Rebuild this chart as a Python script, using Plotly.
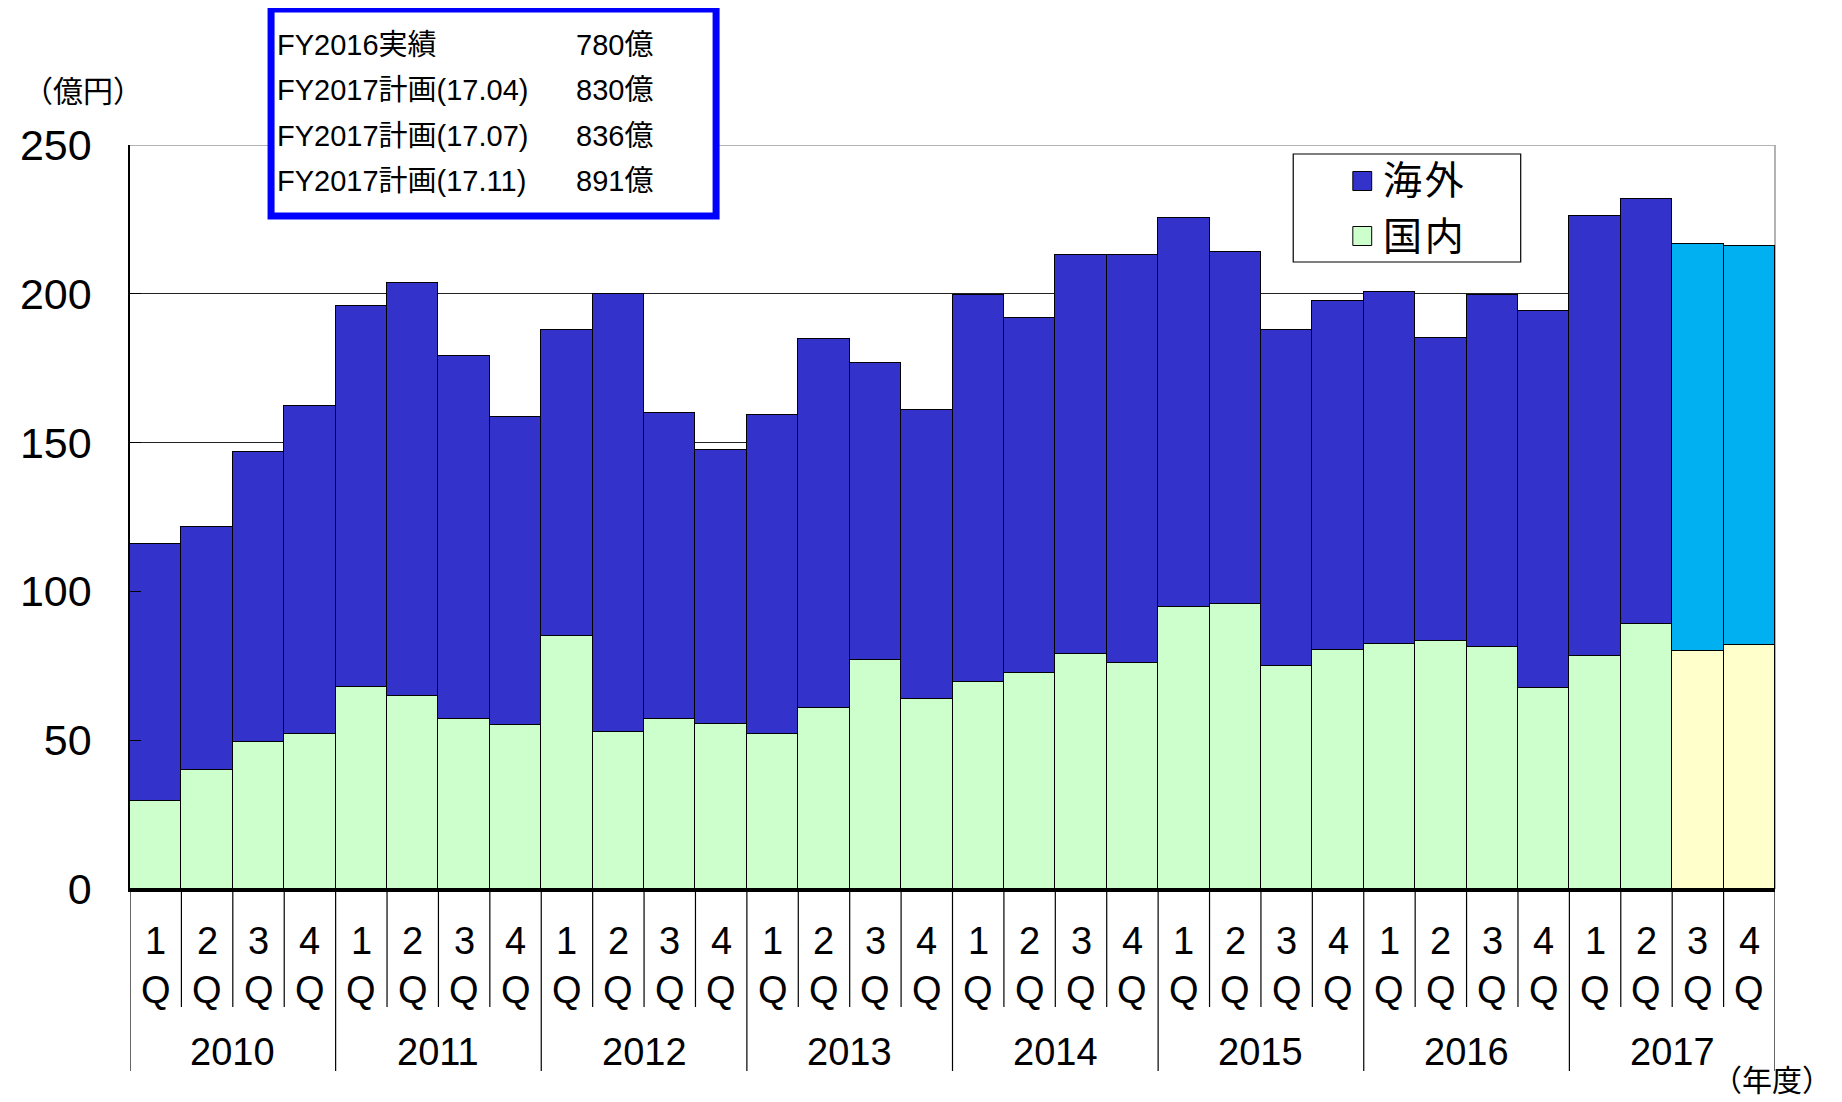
import plotly.graph_objects as go

# ---------------- data ----------------
years = [2010, 2011, 2012, 2013, 2014, 2015, 2016, 2017]
quarters = [1, 2, 3, 4]
domestic = [29.5, 40.0, 49.5, 52.0,
            68.0, 65.0, 57.0, 55.0,
            85.0, 52.7, 57.0, 55.5,
            52.2, 60.7, 77.0, 64.0,
            69.7, 72.6, 78.8, 76.0,
            94.6, 95.8, 75.0, 80.3,
            82.2, 83.5, 81.3, 67.4,
            78.4, 89.0, 80.0, 81.9]
overseas = [86.5, 81.5, 97.5, 110.3,
            128.0, 138.5, 122.0, 103.5,
            103.0, 147.3, 102.8, 91.9,
            107.2, 124.0, 99.7, 97.0,
            129.9, 119.2, 134.2, 137.0,
            130.9, 118.2, 113.0, 117.4,
            118.3, 101.7, 118.3, 126.8,
            147.6, 142.7, 136.8, 134.0]
plan_year = 2017
plan_quarters = [3, 4]
y_ticks = [0, 50, 100, 150, 200, 250]
legend_names = ["海外", "国内"]
box_labels = ["FY2016実績", "FY2017計画(17.04)", "FY2017計画(17.07)", "FY2017計画(17.11)"]
box_values = ["780億", "830億", "836億", "891億"]

# ---------------- styles ----------------
C_OVS, C_DOM = "#3333CC", "#CCFFCC"
C_OVS_PLAN, C_DOM_PLAN = "#00B0F0", "#FFFFCC"
FONT = "Liberation Sans, Arial, Noto Sans CJK JP, sans-serif"

BODY = 8                      # default page margin around the figure
W, H = 1842 - BODY, 1102 - BODY
# plot area in screen pixels
SL, SR, ST, SB = 119, 1775, 145, 889
L, R, T, B = SL - BODY, SR - BODY, ST - BODY, SB - BODY


def px_x(p):
    return (p - SL) / (SR - SL)


def px_y(p):
    return (SB - p) / (SB - ST)


xs = []
is_plan = []
for yr in years:
    for q in quarters:
        xs.append(len(xs))
        is_plan.append(yr == plan_year and q in plan_quarters)

dom_colors = [C_DOM_PLAN if p else C_DOM for p in is_plan]
ovs_colors = [C_OVS_PLAN if p else C_OVS for p in is_plan]

fig = go.Figure()
fig.add_trace(go.Bar(x=xs, y=domestic, name=legend_names[1],
                     marker=dict(color=dom_colors, line=dict(color="black", width=1.2)),
                     showlegend=False))
fig.add_trace(go.Bar(x=xs, y=overseas, name=legend_names[0],
                     marker=dict(color=ovs_colors, line=dict(color="black", width=1.2)),
                     showlegend=False))

shapes = []
annotations = []

# right and top border (gray)
shapes.append(dict(type="line", xref="paper", yref="paper", x0=1, x1=1, y0=0, y1=1,
                   line=dict(color="#9a9a9a", width=1.5), layer="below"))
shapes.append(dict(type="line", xref="paper", yref="y", x0=0, x1=1, y0=y_ticks[-1], y1=y_ticks[-1],
                   line=dict(color="#9a9a9a", width=1.5), layer="above"))

# category separators below the axis
n = len(xs)
for k in range(n + 1):
    major = (k % len(quarters) == 0)
    shapes.append(dict(type="line", xref="x", yref="paper", x0=k - 0.5, x1=k - 0.5,
                       y0=0, y1=px_y(1071) if major else px_y(1007),
                       line=dict(color="black", width=1.2)))

# quarter labels
for i, x in enumerate(xs):
    q = quarters[i % len(quarters)]
    annotations.append(dict(x=x, y=px_y(941), xref="x", yref="paper", text=str(q),
                            showarrow=False, yanchor="middle", xanchor="center",
                            font=dict(size=38, color="black", family=FONT)))
    annotations.append(dict(x=x, y=px_y(990), xref="x", yref="paper", text="Q",
                            showarrow=False, yanchor="middle", xanchor="center",
                            font=dict(size=38, color="black", family=FONT)))
# year labels
for j, yr in enumerate(years):
    annotations.append(dict(x=j * len(quarters) + (len(quarters) - 1) / 2, y=px_y(1052),
                            xref="x", yref="paper", text=str(yr), showarrow=False,
                            yanchor="middle", xanchor="center",
                            font=dict(size=38, color="black", family=FONT)))

# axis unit labels
annotations.append(dict(x=px_x(72), y=px_y(92), xref="paper", yref="paper", text="（億円）",
                        showarrow=False, xanchor="center", yanchor="middle",
                        font=dict(size=30, color="black", family=FONT)))
annotations.append(dict(x=px_x(1772), y=px_y(1080), xref="paper", yref="paper", text="（年度）",
                        showarrow=False, xanchor="center", yanchor="middle",
                        font=dict(size=30, color="black", family=FONT)))

# legend (box, swatches, labels)
shapes.append(dict(type="rect", xref="paper", yref="paper", x0=px_x(1290), x1=px_x(1519),
                   y0=px_y(262), y1=px_y(154), line=dict(color="black", width=1.2),
                   fillcolor="white", layer="above"))
for k, (name, col, yc) in enumerate([(legend_names[0], C_OVS, 181), (legend_names[1], C_DOM, 236)]):
    shapes.append(dict(type="rect", xref="paper", yref="paper", x0=px_x(1350), x1=px_x(1369),
                       y0=px_y(yc + 9.5), y1=px_y(yc - 9.5), fillcolor=col,
                       line=dict(color="black", width=1), layer="above"))
    annotations.append(dict(x=px_x(1378), y=px_y(yc), xref="paper", yref="paper",
                            text=name[0] + "<span style='font-size:10px'> </span>" + name[1],
                            showarrow=False, xanchor="left", yanchor="middle",
                            font=dict(size=39, color="black", family=FONT)))

# info box
shapes.append(dict(type="rect", xref="paper", yref="paper", x0=px_x(261), x1=px_x(709),
                   y0=px_y(216), y1=px_y(9), line=dict(color="#0000FF", width=7),
                   fillcolor="white", layer="above"))
for k, (lab, val) in enumerate(zip(box_labels, box_values)):
    yc = 45 + 45.3 * k
    annotations.append(dict(x=px_x(265), y=px_y(yc), xref="paper", yref="paper", text=lab,
                            showarrow=False, xanchor="left", yanchor="middle",
                            font=dict(size=29, color="black", family=FONT)))
    annotations.append(dict(x=px_x(566), y=px_y(yc), xref="paper", yref="paper", text=val,
                            showarrow=False, xanchor="left", yanchor="middle",
                            font=dict(size=29, color="black", family=FONT)))

fig.update_layout(
    width=W, height=H,
    margin=dict(l=L, r=W - R, t=T, b=H - B, pad=0),
    paper_bgcolor="white", plot_bgcolor="white",
    barmode="stack", bargap=0,
    showlegend=False,
    shapes=shapes, annotations=annotations,
    font=dict(family=FONT, color="black"),
    xaxis=dict(range=[-0.5, n - 0.5], showticklabels=False, ticks="", showgrid=False,
               zeroline=False, showline=True, linecolor="black", linewidth=2.5, mirror=False,
               fixedrange=True),
    yaxis=dict(range=[0, 250], tickvals=y_ticks, ticktext=[str(v) for v in y_ticks],
               showgrid=True, gridcolor="#222222", gridwidth=1.2, zeroline=False,
               showline=True, linecolor="black", linewidth=1.5,
               ticks="inside", ticklen=11, tickcolor="black", tickwidth=1.2,
               ticklabelstandoff=28,
               tickfont=dict(size=43, color="black", family=FONT), fixedrange=True),
)

fig.write_html("out.html")
